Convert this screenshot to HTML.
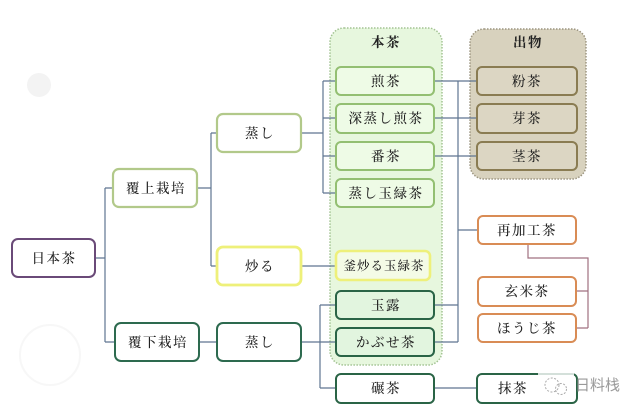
<!DOCTYPE html>
<html><head><meta charset="utf-8">
<style>
html,body{margin:0;padding:0;background:#fff;}
svg{display:block;}
text{font-family:"Liberation Serif","Noto Serif CJK SC","Noto Sans CJK JP",serif;font-size:13.5px;fill:#222;letter-spacing:1.5px;font-weight:500;}
</style></head>
<body>
<svg width="640" height="412" viewBox="0 0 640 412" xmlns="http://www.w3.org/2000/svg">
<rect width="640" height="412" fill="#fff"/>
<circle cx="39" cy="85" r="12" fill="#f3f3f3"/>
<circle cx="50" cy="355" r="30" fill="none" stroke="#f7f7f7" stroke-width="2"/>

<!-- containers -->
<rect x="330" y="28" width="112" height="337" rx="14" fill="#e7f7de" stroke="#a3c393" stroke-width="1.5" stroke-dasharray="1.5,1.5"/>
<rect x="470" y="29" width="116" height="150" rx="14" fill="#d8d2be" stroke="#9c9580" stroke-width="1.5" stroke-dasharray="1.5,1.5"/>
<text x="386" y="47" text-anchor="middle" style="font-weight:bold">本茶</text>
<text x="528" y="47" text-anchor="middle" style="font-weight:bold">出物</text>

<!-- connectors -->
<g stroke="#5f7591" stroke-width="1.2" fill="none">
<path d="M95,258H105M105,188V342M105,188H113M105,342H115"/>
<path d="M197,188H211M211,133V266M211,133H217M211,266H217"/>
<path d="M301,133H323M323,81V193M323,81H336M323,118H336M323,156H336M323,193H336"/>
<path d="M301,266H336"/>
<path d="M199,342H217M301,342H336M320,305V388M320,305H336M320,388H336"/>
<path d="M434,81H477M434,118H477M434,156H477"/>
<path d="M458,81V342M434,305H458M434,342H458M458,230H478"/>
<path d="M434,388H477"/>
</g>
<path d="M528,244V258H588V328M576,291H588M576,328H588" stroke="#a07080" stroke-width="1.2" fill="none"/>

<!-- left tree nodes -->
<rect x="12" y="239" width="83" height="38" rx="6" fill="#fff" stroke="#6a4a78" stroke-width="2"/>
<text x="54" y="263" text-anchor="middle">日本茶</text>
<rect x="113" y="169" width="84" height="38" rx="6" fill="#fff" stroke="#b2c98a" stroke-width="2.2"/>
<text x="156" y="193" text-anchor="middle">覆上栽培</text>
<rect x="217" y="114" width="84" height="38" rx="6" fill="#fff" stroke="#b2c98a" stroke-width="2.2"/>
<text x="260" y="138" text-anchor="middle">蒸し</text>
<rect x="217" y="247" width="84" height="38" rx="6" fill="#fff" stroke="#eef07a" stroke-width="2.8"/>
<text x="260" y="271" text-anchor="middle">炒る</text>
<rect x="115" y="323" width="84" height="38" rx="6" fill="#fff" stroke="#2d6a4f" stroke-width="2"/>
<text x="158" y="347" text-anchor="middle">覆下栽培</text>
<rect x="217" y="323" width="84" height="38" rx="6" fill="#fff" stroke="#2d6a4f" stroke-width="2"/>
<text x="260" y="347" text-anchor="middle">蒸し</text>

<!-- 本茶 nodes -->
<g stroke="#93bf72" stroke-width="2" fill="#eefbe6">
<rect x="336" y="67" width="98" height="28" rx="5"/>
<rect x="336" y="104" width="98" height="29" rx="5"/>
<rect x="336" y="142" width="98" height="28" rx="5"/>
<rect x="336" y="179" width="98" height="28" rx="5"/>
</g>
<text x="386" y="86" text-anchor="middle">煎茶</text>
<text x="386" y="123" text-anchor="middle">深蒸し煎茶</text>
<text x="386" y="161" text-anchor="middle">番茶</text>
<text x="386" y="198" text-anchor="middle">蒸し玉緑茶</text>
<rect x="336" y="251" width="94" height="29" rx="5" fill="#f4fbe6" stroke="#eef07a" stroke-width="2.6"/>
<text x="384" y="270" text-anchor="middle" style="font-size:12.5px;letter-spacing:1px">釜炒る玉緑茶</text>
<g stroke="#2a6446" stroke-width="2" fill="#e2f5df">
<rect x="336" y="291" width="98" height="28" rx="5"/>
<rect x="336" y="328" width="98" height="28" rx="5"/>
</g>
<text x="386" y="310" text-anchor="middle">玉露</text>
<text x="386" y="347" text-anchor="middle">かぶせ茶</text>
<rect x="336" y="374" width="98" height="29" rx="5" fill="#fff" stroke="#2a6446" stroke-width="2"/>
<text x="386" y="393" text-anchor="middle">碾茶</text>
<rect x="477" y="374" width="100" height="29" rx="5" fill="#fff" stroke="#2a6446" stroke-width="2"/>
<text x="513" y="393" text-anchor="middle">抹茶</text>

<!-- 出物 nodes -->
<g stroke="#8a7c52" stroke-width="2" fill="#dcd6c3">
<rect x="477" y="67" width="100" height="28" rx="5"/>
<rect x="477" y="104" width="100" height="29" rx="5"/>
<rect x="477" y="142" width="100" height="28" rx="5"/>
</g>
<text x="527" y="86" text-anchor="middle">粉茶</text>
<text x="527" y="123" text-anchor="middle">芽茶</text>
<text x="527" y="161" text-anchor="middle">茎茶</text>

<!-- orange nodes -->
<g stroke="#d98c55" stroke-width="2" fill="#fff">
<rect x="478" y="216" width="98" height="28" rx="5"/>
<rect x="478" y="277" width="98" height="29" rx="5"/>
<rect x="478" y="314" width="98" height="28" rx="5"/>
</g>
<text x="527" y="235" text-anchor="middle">再加工茶</text>
<text x="527" y="296" text-anchor="middle">玄米茶</text>
<text x="527" y="333" text-anchor="middle">ほうじ茶</text>

<!-- watermark -->
<rect x="538" y="373" width="36" height="28" fill="#fff" opacity="0.8"/>
<circle cx="552" cy="385" r="7" fill="none" stroke="#aaa" stroke-width="1" stroke-dasharray="2,1.5"/>
<circle cx="561" cy="389" r="5.5" fill="none" stroke="#aaa" stroke-width="1" stroke-dasharray="2,1.5"/>
<text x="575" y="390" style="font-family:'Liberation Sans','Noto Sans CJK SC',sans-serif;font-size:15px;fill:#999;letter-spacing:0;font-weight:normal">日料栈</text>
</svg>
</body></html>
